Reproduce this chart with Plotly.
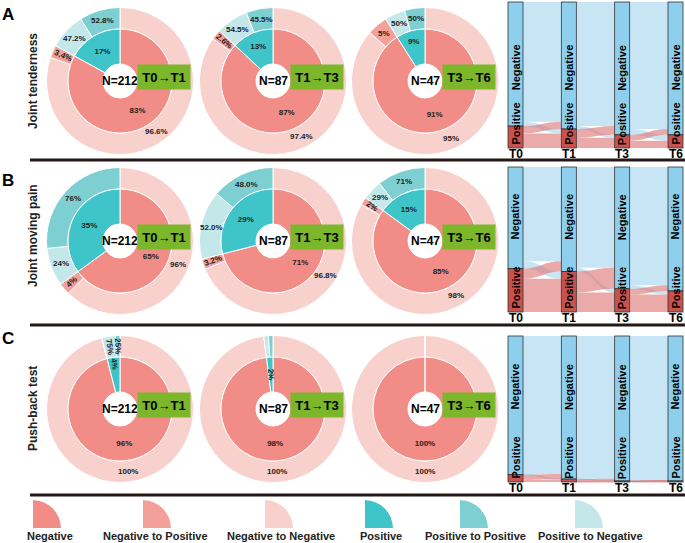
import math
import plotly.graph_objects as go

W, H = 685, 543
FONT = "Arial, Liberation Sans, sans-serif"

# ---------------- data ----------------
row_letters = ["A", "B", "C"]
row_titles = ["Joint tenderness", "Joint moving pain", "Push-back test"]
periods = ["T0→T1", "T1→T3", "T3→T6"]
sample_sizes = [212, 87, 47]
timepoints = ["T0", "T1", "T3", "T6"]

# inner ring: [Negative, Positive] (%)
inner_A = [[83, 17], [87, 13], [91, 9]]
inner_B = [[65, 35], [71, 29], [85, 15]]
inner_C = [[96, 4], [98, 2], [100, 0]]
# outer ring, within negative: [Neg->Neg, Neg->Pos] (%)
neg_split_A = [[96.6, 3.4], [97.4, 2.6], [95, 5]]
neg_split_B = [[96, 4], [96.8, 3.2], [98, 2]]
neg_split_C = [[100, 0], [100, 0], [100, 0]]
# outer ring, within positive: [Pos->Neg, Pos->Pos] (%)
pos_split_A = [[47.2, 52.8], [54.5, 45.5], [50, 50]]
pos_split_B = [[24, 76], [52.0, 48.0], [29, 71]]
pos_split_C = [[75, 25], [50, 50], [0, 0]]

inner_text_A = [["83%", "17%"], ["87%", "13%"], ["91%", "9%"]]
inner_text_B = [["65%", "35%"], ["71%", "29%"], ["85%", "15%"]]
inner_text_C = [["96%", "4%"], ["98%", "2%"], ["100%", ""]]
outer_text_A = [["96.6%", "3.4%", "47.2%", "52.8%"], ["97.4%", "2.6%", "54.5%", "45.5%"], ["95%", "5%", "50%", "50%"]]
outer_text_B = [["96%", "4%", "24%", "76%"], ["96.8%", "3.2%", "52.0%", "48.0%"], ["98%", "2%", "29%", "71%"]]
outer_text_C = [["100%", "", "75%", "25%"], ["100%", "", "", ""], ["100%", "", "", ""]]

# alluvial flows per transition: [Neg->Neg, Neg->Pos, Pos->Neg, Pos->Pos] (% of cohort)
flows_A = [[82, 3, 5, 10], [85, 2, 6, 7], [87, 4, 4, 5]]
flows_B = [[65, 5, 7, 23], [69.5, 2.5, 14.5, 13.5], [81.5, 2.5, 4, 12]]
flows_C = [[94.5, 0.5, 3.5, 1.5], [97.8, 0.2, 1.5, 0.5], [99.0, 0.3, 0.3, 0.4]]

legend_labels = ["Negative", "Negative to Positive", "Negative to Negative",
                 "Positive", "Positive to Positive", "Positive to Negative"]

inners = [inner_A, inner_B, inner_C]
neg_splits = [neg_split_A, neg_split_B, neg_split_C]
pos_splits = [pos_split_A, pos_split_B, pos_split_C]
inner_texts = [inner_text_A, inner_text_B, inner_text_C]
outer_texts = [outer_text_A, outer_text_B, outer_text_C]
flows_all = [flows_A, flows_B, flows_C]

# ---------------- style ----------------
C_NEG = "#F28C87"
C_NEGPOS = "#F4A09A"
C_NEGNEG = "#F8D0CC"
C_POS = "#3FC4C9"
C_POSPOS = "#7ECFD2"
C_POSNEG = "#C4E8EA"
legend_colors = [C_NEG, C_NEGPOS, C_NEGNEG, C_POS, C_POSPOS, C_POSNEG]
GREEN = "#7BB62B"
NODE_NEG = "#8DCFEC"
NODE_POS = "#C9524F"
LINK_NEG = "rgba(180,220,240,0.75)"
LINK_POS = "rgba(222,125,125,0.65)"

donut_cx = [120, 273, 425]
row_cy = [81, 241, 409]
R_OUT, R_IN, R_HOLE = 73.5, 52, 17
sankey_x = (508, 683)
sankey_y = [(2, 148), (167, 312), (336, 482)]
NODE_T = 15
neg_label_frac = [0.45, 0.345, 0.35]
sep_lines = [160, 325, 495]
letter_y = [14, 181, 338]
title_y = [81, 236, 409]
ROTATE_BELOW_DEG = 13
INNER_ANNOT_BELOW_DEG = 10


def px_x(x):
    return x / W


def px_y(y):
    return 1 - y / H


def dom(cx, cy, r):
    return dict(x=[px_x(cx - r), px_x(cx + r)], y=[px_y(cy + r), px_y(cy - r)])


fig = go.Figure()
annotations = []
shapes = []
pct_font = dict(family=FONT, size=8, color="#222", weight="bold")


def ring_labels(cx, cy, vals, texts, rmid, rotate_below, only_below=None):
    tot = sum(vals)
    cum = 0.0
    for v, t in zip(vals, texts):
        a0 = cum / tot * 360
        cum += v
        a1 = cum / tot * 360
        if not t:
            continue
        if only_below is not None and (a1 - a0) >= only_below:
            continue
        mid = (a0 + a1) / 2
        th = math.radians(mid)
        lx = cx + rmid * math.sin(th)
        ly = cy - rmid * math.cos(th)
        ang = 0
        if a1 - a0 < rotate_below:
            ang = mid - 90
            while ang > 90:
                ang -= 180
            while ang < -90:
                ang += 180
        annotations.append(dict(
            x=px_x(lx), y=px_y(ly), xref="paper", yref="paper", showarrow=False,
            text=t, textangle=ang, font=pct_font, xanchor="center", yanchor="middle"))


for r in range(3):
    cy = row_cy[r]
    for c in range(3):
        cx = donut_cx[c]
        neg, pos = inners[r][c]
        nn, np_ = neg_splits[r][c]
        pn, pp = pos_splits[r][c]
        outer_vals = [neg * nn / 100, neg * np_ / 100, pos * pn / 100, pos * pp / 100]
        fig.add_trace(go.Pie(
            values=outer_vals, sort=False, direction="clockwise", rotation=0,
            hole=R_IN / R_OUT, domain=dom(cx, cy, R_OUT),
            marker=dict(colors=[C_NEGNEG, C_NEGPOS, C_POSNEG, C_POSPOS], line=dict(color="white", width=1)),
            textinfo="none", hoverinfo="skip", showlegend=False,
        ))
        inner_vals = [neg, pos]
        pie_text = [t if v / 100 * 360 >= INNER_ANNOT_BELOW_DEG else ""
                    for v, t in zip(inner_vals, inner_texts[r][c])]
        fig.add_trace(go.Pie(
            values=inner_vals, sort=False, direction="clockwise", rotation=0,
            hole=R_HOLE / R_IN, domain=dom(cx, cy, R_IN),
            marker=dict(colors=[C_NEG, C_POS], line=dict(color="white", width=1)),
            text=pie_text, textinfo="text", textposition="inside",
            insidetextorientation="auto", insidetextfont=pct_font,
            hoverinfo="skip", showlegend=False,
        ))
        ring_labels(cx, cy, inner_vals, inner_texts[r][c], (R_HOLE + R_IN) / 2,
                    INNER_ANNOT_BELOW_DEG, only_below=INNER_ANNOT_BELOW_DEG)
        ring_labels(cx, cy, outer_vals, outer_texts[r][c], (R_IN + R_OUT) / 2, ROTATE_BELOW_DEG)
        annotations.append(dict(
            x=px_x(cx), y=px_y(cy), xref="paper", yref="paper", showarrow=False,
            text="<b>N=%d</b>" % sample_sizes[c], font=dict(family=FONT, size=12, color="black"),
            xanchor="center", yanchor="middle"))
        annotations.append(dict(
            x=px_x(cx + 44), y=px_y(cy - 4), xref="paper", yref="paper", showarrow=False,
            text="<b>%s</b>" % periods[c], font=dict(family=FONT, size=13, color="black"),
            bgcolor=GREEN, width=52, height=24, borderpad=0,
            xanchor="center", yanchor="middle"))

    # alluvial panel
    flows = flows_all[r]
    col_neg = [flows[0][0] + flows[0][1]] + [f[0] + f[2] for f in flows]
    col_pos = [flows[0][2] + flows[0][3]] + [f[1] + f[3] for f in flows]
    src, tgt, val, lcol = [], [], [], []
    for k, f in enumerate(flows):
        pairs = [(2 * k, 2 * k + 2, LINK_NEG), (2 * k, 2 * k + 3, LINK_NEG),
                 (2 * k + 1, 2 * k + 2, LINK_POS), (2 * k + 1, 2 * k + 3, LINK_POS)]
        for (s, t, colr), v in zip(pairs, f):
            src.append(s); tgt.append(t); val.append(v); lcol.append(colr)
    sx0, sx1 = sankey_x
    sy0, sy1 = sankey_y[r]
    wd = sx1 - sx0
    hd = sy1 - sy0
    node_x, node_y, node_c = [], [], []
    bar_cx = []
    for i in range(4):
        xc = (NODE_T / 2 + i * (wd - NODE_T) / 3) / wd
        bar_cx.append(sx0 + xc * wd)
        tot = col_neg[i] + col_pos[i]
        node_x += [xc, xc]
        node_y += [col_neg[i] / tot / 2, (col_neg[i] + col_pos[i] / 2) / tot]
        node_c += [NODE_NEG, NODE_POS]
    fig.add_trace(go.Sankey(
        domain=dict(x=[px_x(sx0), px_x(sx1)], y=[px_y(sy1), px_y(sy0)]),
        arrangement="fixed",
        node=dict(label=[""] * 8, x=node_x, y=node_y, pad=0, thickness=NODE_T,
                  color=node_c, line=dict(color="#333", width=0.8)),
        link=dict(source=src, target=tgt, value=val, color=lcol),
        hoverinfo="skip",
    ))
    for i in range(4):
        annotations.append(dict(
            x=px_x(bar_cx[i]), y=px_y(sy0 + neg_label_frac[r] * hd), xref="paper", yref="paper",
            showarrow=False, text="<b>Negative</b>", textangle=-90,
            font=dict(family=FONT, size=11, color="black"), xanchor="center", yanchor="middle"))
        annotations.append(dict(
            x=px_x(bar_cx[i]), y=px_y(sy1 - 1), xref="paper", yref="paper",
            showarrow=False, text="<b>Positive</b>", textangle=-90,
            font=dict(family=FONT, size=11, color="black"), xanchor="center", yanchor="bottom"))
        annotations.append(dict(
            x=px_x(bar_cx[i]), y=px_y(sy1 + 6), xref="paper", yref="paper",
            showarrow=False, text="<b>%s</b>" % timepoints[i],
            font=dict(family=FONT, size=12, color="black"), xanchor="center", yanchor="middle"))

    # row letter and title
    annotations.append(dict(
        x=px_x(8), y=px_y(letter_y[r]), xref="paper", yref="paper",
        showarrow=False, text="<b>%s</b>" % row_letters[r],
        font=dict(family=FONT, size=17, color="black"), xanchor="center", yanchor="middle"))
    annotations.append(dict(
        x=px_x(33), y=px_y(title_y[r]), xref="paper", yref="paper",
        showarrow=False, text="<b>%s</b>" % row_titles[r], textangle=-90,
        font=dict(family=FONT, size=12, color="#222"), xanchor="center", yanchor="middle"))

for y in sep_lines:
    shapes.append(dict(type="line", xref="paper", yref="paper",
                       x0=px_x(30), x1=1, y0=px_y(y), y1=px_y(y),
                       line=dict(color="#231815", width=3)))

# legend (quarter wedges)
leg_corner_x = [33, 143, 265, 365, 460, 575]
leg_label_x = [50, 155, 281, 381, 475, 590]
LEG_R = 28
leg_corner_y = 528
layout_polars = {}
for i, (lab, colr) in enumerate(zip(legend_labels, legend_colors)):
    pname = "polar" if i == 0 else "polar%d" % (i + 1)
    fig.add_trace(go.Barpolar(
        r=[1], theta=[45], width=[90], marker=dict(color=colr, line=dict(width=0)),
        subplot=pname, hoverinfo="skip", showlegend=False))
    x0 = leg_corner_x[i]
    layout_polars[pname] = dict(
        domain=dict(x=[px_x(x0), px_x(x0 + LEG_R)], y=[px_y(leg_corner_y), px_y(leg_corner_y - LEG_R)]),
        sector=[0, 90], bgcolor="rgba(0,0,0,0)", hole=0,
        radialaxis=dict(range=[0, 1], visible=False, showgrid=False),
        angularaxis=dict(visible=False, showgrid=False))
    annotations.append(dict(
        x=px_x(leg_label_x[i]), y=px_y(536), xref="paper", yref="paper", showarrow=False,
        text="<b>%s</b>" % lab, font=dict(family=FONT, size=11, color="#222"),
        xanchor="center", yanchor="middle"))

fig.update_layout(
    width=W, height=H, margin=dict(l=0, r=0, t=0, b=0),
    paper_bgcolor="white", plot_bgcolor="white", showlegend=False,
    annotations=annotations, shapes=shapes, **layout_polars)

fig.write_html("out.html")
